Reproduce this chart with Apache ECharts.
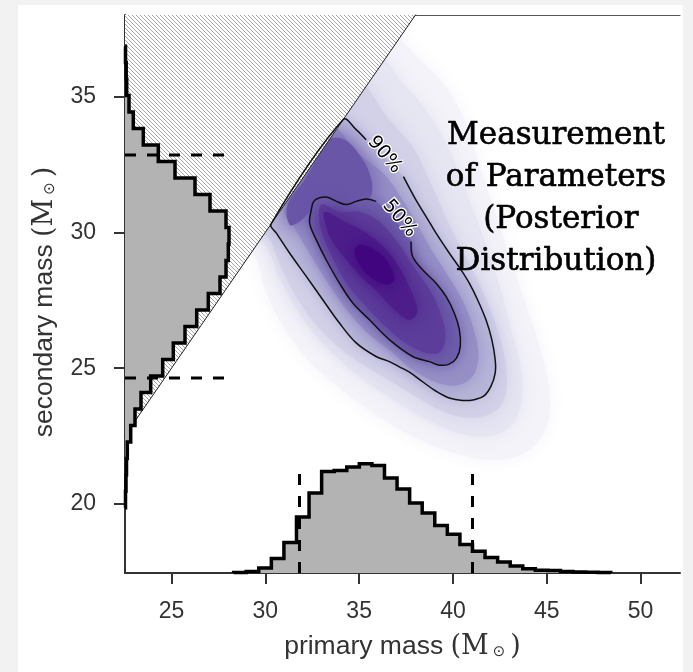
<!DOCTYPE html>
<html><head><meta charset="utf-8">
<script src="https://cdn.jsdelivr.net/npm/echarts@6/dist/echarts.min.js"></script>
<style>
html,body{margin:0;padding:0;background:#f2f2f2;width:693px;height:672px;overflow:hidden;}
#panel{position:absolute;left:18px;top:5px;width:665px;height:667px;background:#fff;}
#chart{width:665px;height:667px;}
</style></head><body>
<div id="panel"><div id="chart"></div></div>
<script>
// ---------- axes ----------
const xMin = 22.52, xMax = 52.1;
const yMin = 17.46, yMax = 38.0;
const xTicks = [25, 30, 35, 40, 45, 50];
const yTicks = [20, 25, 30, 35];

// ---------- marginal histograms (relative counts) ----------
const primaryBinStart = 28.31, primaryBinWidth = 0.67;
const primaryCounts = [5, 15, 50, 145, 306, 560, 800, 1016, 1025, 1060, 1093, 1075, 950, 840, 700, 600, 476, 388, 285, 217, 155, 110, 70, 43, 28, 25, 15, 10, 8, 6];
const secondaryBinStart = 19.858, secondaryBinWidth = 0.607;
const secondaryCounts = [5, 10, 15, 23, 57, 100, 160, 257, 377, 483, 600, 717, 833, 950, 1010, 1033, 1040, 1010, 850, 700, 500, 333, 183, 83, 40, 17, 12, 5];
const primaryCI = [31.82, 41.04];
const secondaryCI = [24.64, 32.85];
const primaryCILength = 1016;
const secondaryCILength = 1020;
const countAxisMaxX = 5550;
const countAxisMaxY = 5580;

// ---------- excluded region m2 > m1 ----------
const hatchRegion = [[17, 17], [40, 40], [17, 40]];
const equalMassLine = [[17, 17], [40, 40]];

// ---------- credible contours ----------
const contour90 = [[37.36,32.05],[37.68,31.63],[38.12,31.08],[38.56,30.59],[39.10,29.97],[39.80,29.24],[40.43,28.62],[40.87,28.13],[41.31,27.52],[41.76,26.78],[42.07,26.05],[42.25,25.31],[42.25,24.82],[42.02,24.33],[41.67,23.99],[41.13,23.84],[40.51,23.81],[39.80,23.90],[39.10,24.15],[38.38,24.50],[37.68,24.85],[37.14,25.05],[36.61,25.24],[35.90,25.43],[34.84,25.93],[33.95,26.66],[33.06,27.52],[32.18,28.38],[31.29,29.24],[30.59,29.97],[30.30,30.30],[34.15,34.15],[34.84,33.78],[35.37,33.41]];
const contour50 = [[37.77,29.66],[37.85,29.11],[38.38,28.62],[39.10,28.13],[39.63,27.64],[40.07,27.03],[40.34,26.42],[40.39,25.80],[40.19,25.37],[39.80,25.15],[39.27,25.11],[38.74,25.24],[37.85,25.43],[36.61,26.05],[35.55,26.78],[34.66,27.40],[33.95,28.13],[33.24,28.99],[32.71,29.73],[32.36,30.34],[32.45,30.83],[32.57,31.13],[32.89,31.27],[33.31,31.29],[33.79,31.14],[34.31,31.02],[34.84,31.14],[35.37,31.23],[35.90,31.14]];
const contourLabelTexts = ['90%', '50%'];
const contourLabelPos = [[36.35, 32.86], [37.15, 30.51]];

// ---------- posterior density levels (outer to inner) ----------
const densityE0 = [[36.6,37.2],[38.21,36.35],[39.54,35.43],[40.60,34.14],[41.40,32.49],[42.20,30.83],[43.00,29.18],[43.80,27.52],[44.59,25.87],[45.12,24.21],[45.02,22.92],[44.06,22.00],[42.46,21.63],[40.34,21.82],[38.21,22.37],[36.08,23.20],[34.10,24.20],[32.30,25.30],[30.90,26.60],[30.00,27.90],[29.40,29.20],[28.5,29.8]];
const densityE1 = [[35.6,36.6],[37.41,35.43],[38.74,34.33],[39.80,33.04],[40.76,31.38],[41.67,29.73],[42.46,28.07],[43.10,26.42],[43.63,24.94],[43.63,23.66],[43.00,22.81],[41.67,22.48],[40.07,22.66],[38.21,23.25],[36.45,24.00],[34.70,24.85],[33.00,25.95],[31.70,27.15],[30.70,28.40],[30.10,29.45],[29.2,30.0]];
const densityE2 = [[34.6,35.6],[36.61,34.14],[37.94,33.04],[38.85,31.75],[39.80,30.28],[40.76,28.99],[41.67,27.71],[42.46,26.23],[42.84,24.94],[42.73,23.84],[41.93,23.29],[40.60,23.18],[39.27,23.47],[37.68,24.10],[36.15,24.75],[34.60,25.40],[33.10,26.30],[31.85,27.40],[30.85,28.70],[30.25,29.73],[29.5,30.4]];
const densityM1 = [[33.42,33.89],[35.02,32.86],[36.35,32.13],[37.30,31.20],[38.10,30.28],[38.85,29.36],[39.70,28.44],[40.49,27.52],[41.03,26.60],[41.35,25.61],[41.19,24.87],[40.65,24.47],[39.80,24.36],[38.74,24.58],[37.68,25.02],[36.72,25.61],[35.55,26.23],[34.59,26.94],[33.69,27.78],[32.89,28.62],[32.09,29.54],[31.56,30.17],[31.03,30.83]];
const densityD1 = [[33.26,33.41],[34.22,33.41],[35.12,32.75],[35.65,31.94],[35.55,31.27],[34.22,31.02],[33.15,31.20],[32.46,30.83],[31.82,30.39],[31.29,30.28],[31.19,31.02],[32.09,31.94],[32.78,32.75]];
const densityK1 = [[32.99,31.02],[33.95,30.76],[35.02,30.76],[36.08,30.39],[37.14,29.54],[37.94,28.69],[38.85,27.78],[39.38,26.94],[39.59,26.09],[39.27,25.58],[38.47,25.58],[37.41,25.95],[36.35,26.57],[35.28,27.34],[34.38,28.07],[33.69,28.92],[33.16,29.73],[32.89,30.39]];
const densityK2 = [[33.16,30.76],[34.22,30.39],[35.28,30.02],[36.35,29.43],[37.14,28.70],[37.78,27.82],[38.10,27.08],[37.68,26.78],[36.88,27.15],[35.97,27.82],[35.02,28.44],[34.22,29.07],[33.53,29.73],[33.21,30.28]];
const densityK3 = [[35.02,29.54],[35.81,29.36],[36.50,28.92],[36.88,28.26],[36.50,28.07],[35.65,28.33],[35.02,28.81],[34.75,29.29]];

// ---------- annotation ----------
const annotationLines = ['Measurement', 'of Parameters', ' (Posterior', 'Distribution)'];
const annotationPos = [45.49, 31.24];

// ================= build =================
const densityLevels = [densityE0, densityE1, densityE2, contour90, densityM1, densityD1, contour50, densityK1, densityK2, densityK3];
const levelColors = ['#f4f3f9', '#e6e5f2', '#d2d1e8', '#b7b5d8', '#9690c6', '#6a56a7', '#6e5eab', '#5c3d9a', '#4d1d8a', '#420580'];
const levelBlur = [18, 18, 18, 16, 18, 22, 16, 18, 18, 14];

const pat = document.createElement('canvas');
pat.width = 4; pat.height = 4;
const g = pat.getContext('2d');
g.fillStyle = '#fff'; g.fillRect(0, 0, 4, 4);
g.strokeStyle = '#a6a6a6'; g.lineWidth = 1;
g.beginPath();
g.moveTo(-1, -1); g.lineTo(5, 5);
g.moveTo(-1, 3); g.lineTo(1, 5);
g.moveTo(3, -1); g.lineTo(5, 1);
g.stroke();

function histRender(start, width, counts, horizontal) {
  return function (params, api) {
    const c = (pos, h) => horizontal ? api.coord([h, pos]) : api.coord([pos, h]);
    const pts = [c(start, 0)];
    counts.forEach((v, i) => { pts.push(c(start + i * width, v)); pts.push(c(start + (i + 1) * width, v)); });
    pts.push(c(start + counts.length * width, 0));
    return { type: 'group', children: [
      { type: 'polygon', shape: { points: pts }, style: { fill: '#b3b3b3' } },
      { type: 'polyline', shape: { points: pts }, style: { stroke: '#000', lineWidth: 3.5, fill: null, lineJoin: 'miter' } }
    ] };
  };
}

const axisColor = '#333';
const richName = {
  a: { fontSize: 26.5, fontFamily: 'Liberation Sans', color: axisColor },
  b: { fontSize: 27, fontFamily: 'DejaVu Serif', color: axisColor },
  c: { fontSize: 15, fontFamily: 'DejaVu Sans', color: axisColor, verticalAlign: 'bottom', padding: [0, 5, 0, 4] }
};

const chart = echarts.init(document.getElementById('chart'), null, { renderer: 'canvas' });
chart.setOption({
  animation: false,
  grid: { left: 107, top: 10, right: 3, bottom: 99, containLabel: false },
  xAxis: [
    { type: 'value', min: xMin, max: xMax, position: 'bottom',
      axisLine: { onZero: false, lineStyle: { color: axisColor, width: 2 } },
      axisTick: { show: true, length: 11, customValues: xTicks, lineStyle: { color: axisColor, width: 2 } },
      axisLabel: { customValues: xTicks, margin: 27, fontSize: 23, color: axisColor, fontFamily: 'Liberation Sans' },
      splitLine: { show: false },
      name: '{a|primary mass }{b|(M}{c|⊙}{b|)}', nameLocation: 'middle', nameGap: 60,
      nameTextStyle: { rich: richName } },
    { type: 'value', min: 0, max: countAxisMaxX, position: 'top',
      axisLine: { onZero: false, lineStyle: { color: '#555', width: 1 } },
      axisTick: { show: false }, axisLabel: { show: false }, splitLine: { show: false } }
  ],
  yAxis: [
    { type: 'value', min: yMin, max: yMax, position: 'left',
      axisLine: { onZero: false, lineStyle: { color: axisColor, width: 2 } },
      axisTick: { show: true, length: 11, customValues: yTicks, lineStyle: { color: axisColor, width: 2 } },
      axisLabel: { customValues: yTicks, margin: 29, fontSize: 23, color: axisColor, fontFamily: 'Liberation Sans' },
      splitLine: { show: false },
      name: '{a|secondary mass }{b|(M}{c|⊙}{b|)}', nameLocation: 'middle', nameGap: 67, nameRotate: 90,
      nameTextStyle: { rich: richName, padding: [0, 16, 0, 0] } },
    { type: 'value', min: 0, max: countAxisMaxY, position: 'right',
      axisLine: { show: false }, axisTick: { show: false }, axisLabel: { show: false }, splitLine: { show: false } }
  ],
  series: [
    { type: 'custom', name: 'density', xAxisIndex: 0, yAxisIndex: 0, z: 1, clip: true, silent: true,
      data: densityLevels.map((pts, i) => [pts[0][0], pts[0][1], i]),
      renderItem: (params, api) => {
        const i = api.value(2);
        const pts = densityLevels[i].map(p => api.coord(p));
        return { type: 'polygon', shape: { points: pts, smooth: 0.35 },
          style: { fill: levelColors[i], shadowBlur: levelBlur[i], shadowColor: levelColors[i] } };
      } },
    { type: 'custom', name: 'hatch', xAxisIndex: 0, yAxisIndex: 0, z: 2, clip: true, silent: true,
      data: [[hatchRegion[0][0], hatchRegion[0][1]]],
      renderItem: (params, api) => ({ type: 'polygon', shape: { points: hatchRegion.map(p => api.coord(p)) },
        style: { fill: { image: pat, repeat: 'repeat' } } }) },
    { type: 'line', name: 'equal mass', xAxisIndex: 0, yAxisIndex: 0, z: 3, data: equalMassLine, symbol: 'none', clip: true,
      lineStyle: { color: '#222', width: 1 }, silent: true },
    { type: 'custom', name: 'contours', xAxisIndex: 0, yAxisIndex: 0, z: 4, clip: true, silent: true,
      data: [[contour90[0][0], contour90[0][1], 0], [contour50[0][0], contour50[0][1], 1]],
      renderItem: (params, api) => {
        const c = api.value(2) === 0 ? contour90 : contour50;
        return { type: 'polyline', shape: { points: c.map(p => api.coord(p)), smooth: 0.35 },
          style: { stroke: '#111', lineWidth: 1.5, fill: null } };
      } },
    { type: 'custom', name: 'primary hist', xAxisIndex: 0, yAxisIndex: 1, z: 5, silent: true,
      data: [[primaryBinStart, 0]], renderItem: histRender(primaryBinStart, primaryBinWidth, primaryCounts, false) },
    { type: 'custom', name: 'secondary hist', xAxisIndex: 1, yAxisIndex: 0, z: 5, silent: true,
      data: [[0, secondaryBinStart]], renderItem: histRender(secondaryBinStart, secondaryBinWidth, secondaryCounts, true) },
    { type: 'custom', name: 'primary CI', xAxisIndex: 0, yAxisIndex: 1, z: 6, silent: true,
      data: primaryCI.map(v => [v, 0]),
      renderItem: (params, api) => {
        const a = api.coord([api.value(0), 0]), b = api.coord([api.value(0), primaryCILength]);
        return { type: 'line', shape: { x1: a[0], y1: a[1], x2: b[0], y2: b[1] },
          style: { stroke: '#000', lineWidth: 3, lineDash: [11, 11] } };
      } },
    { type: 'custom', name: 'secondary CI', xAxisIndex: 1, yAxisIndex: 0, z: 6, silent: true,
      data: secondaryCI.map(v => [0, v]),
      renderItem: (params, api) => {
        const a = api.coord([0, api.value(1)]), b = api.coord([secondaryCILength, api.value(1)]);
        return { type: 'line', shape: { x1: a[0], y1: a[1], x2: b[0], y2: b[1] },
          style: { stroke: '#000', lineWidth: 3, lineDash: [11, 11] } };
      } },
    { type: 'custom', name: 'contour labels', xAxisIndex: 0, yAxisIndex: 0, z: 7, silent: true,
      data: contourLabelPos.map((p, i) => [p[0], p[1], i]),
      renderItem: (params, api) => {
        const p = api.coord([api.value(0), api.value(1)]);
        return { type: 'text', x: p[0], y: p[1], rotation: -50 * Math.PI / 180,
          style: { text: contourLabelTexts[api.value(2)], font: '19px "DejaVu Sans"', fill: '#000',
            align: 'center', verticalAlign: 'middle', stroke: '#fff', lineWidth: 2.5, strokeFirst: true } };
      } },
    { type: 'custom', name: 'annotation', xAxisIndex: 0, yAxisIndex: 0, z: 8, silent: true,
      data: [annotationPos],
      renderItem: (params, api) => {
        const p = api.coord([api.value(0), api.value(1)]);
        return { type: 'text', x: p[0], y: p[1],
          style: { text: annotationLines.join('\n'), font: '31px "DejaVu Serif"', fill: '#000',
            stroke: '#000', lineWidth: 0.6,
            align: 'center', verticalAlign: 'middle', lineHeight: 42 } };
      } }
  ]
});
</script></body></html>
